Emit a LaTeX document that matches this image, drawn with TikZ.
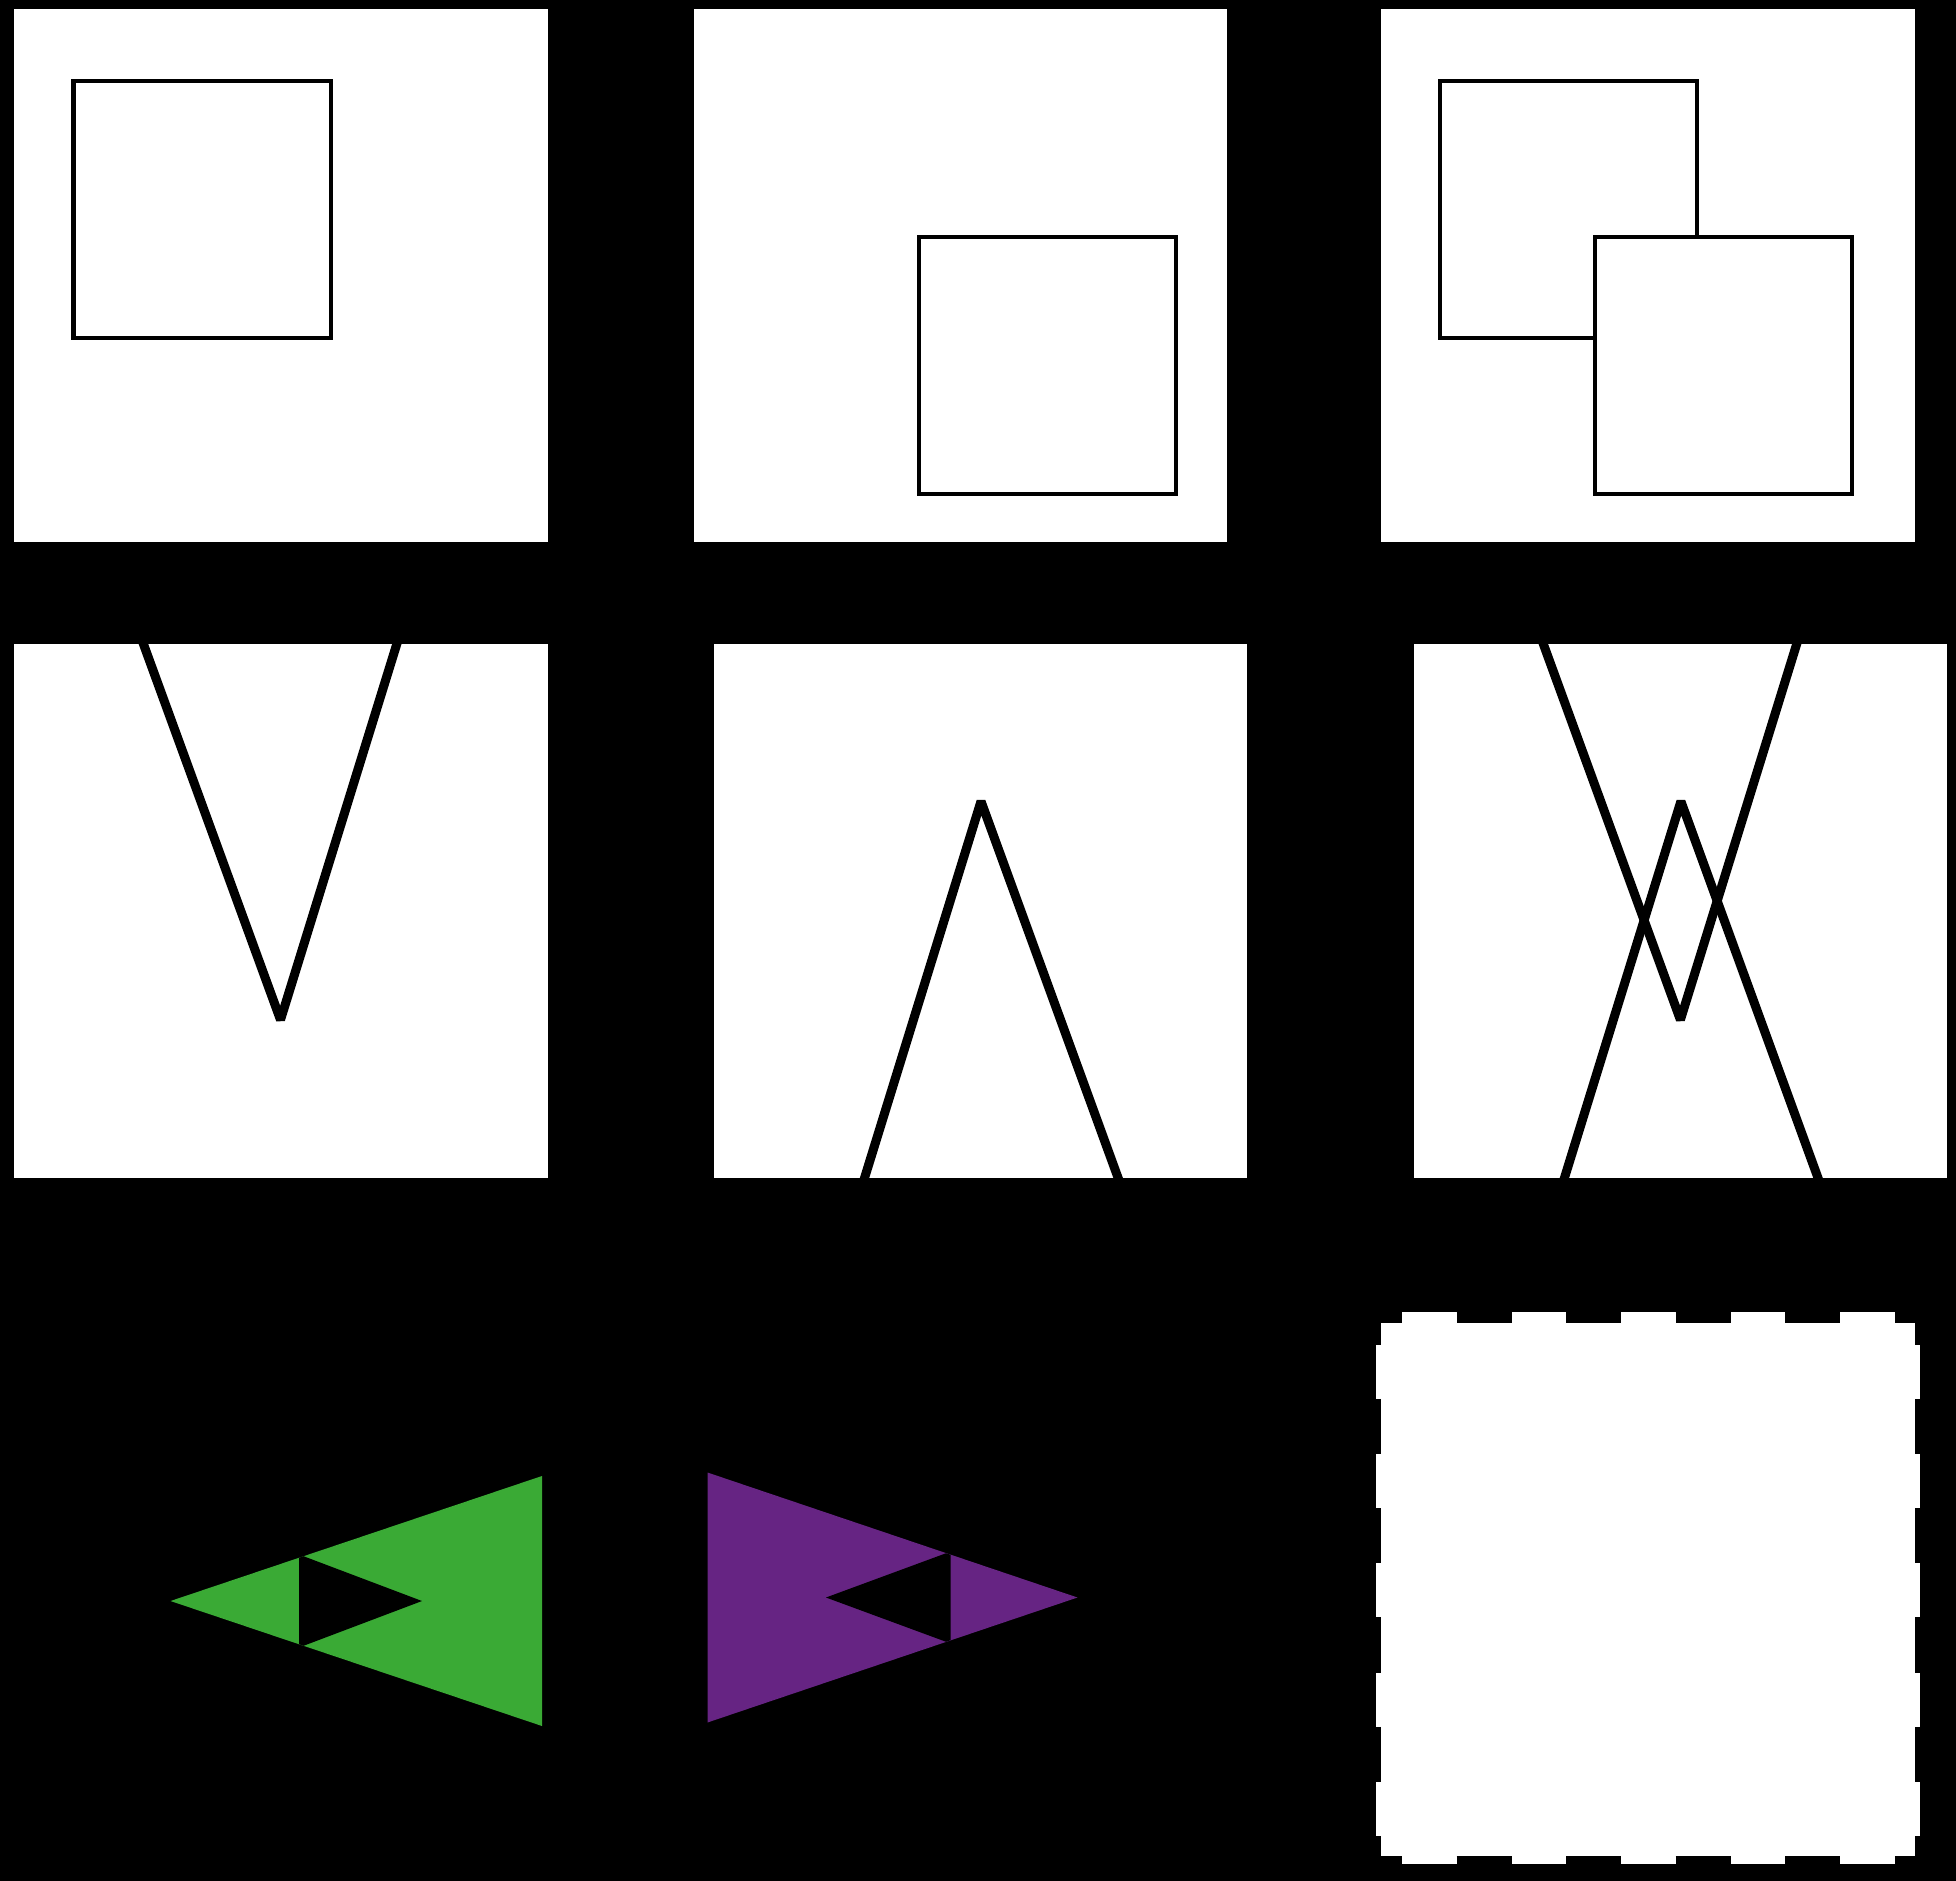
\documentclass[tikz,border=0pt]{standalone}
\definecolor{gfill}{HTML}{3AAA35}
\definecolor{pfill}{HTML}{662483}
\tikzset{
  panelbox/.style={fill=white},
  sqbox/.style={draw=black, line width=0.04cm},
  vline/.style={draw=black, line width=0.09cm, line join=bevel},
  topdash/.style={draw=black, dash pattern=on 0.552cm off 0.543cm, dash phase=0.29cm},
  sidedash/.style={draw=black, dash pattern=on 0.55cm off 0.542cm, dash phase=0.223cm}
}
\begin{document}
\begin{tikzpicture}[x=0.01cm,y=-0.01cm]
\useasboundingbox (0,0) rectangle (1956,1881);
\fill[black] (0,0) rectangle (1956,1881);
% row 1 panels
\fill[panelbox] (14,8.5) rectangle (547.6,542);
\fill[panelbox] (693.7,8.5) rectangle (1227.2,542);
\fill[panelbox] (1380.9,8.5) rectangle (1914.8,542);
% row 2 panels
\fill[panelbox] (14,644.3) rectangle (547.6,1177.5);
\fill[panelbox] (714,644.3) rectangle (1247.3,1177.5);
\fill[panelbox] (1413.9,644.3) rectangle (1947.3,1177.5);
% squares
\draw[sqbox] (73.5,81) rectangle (330.5,338);
\draw[sqbox] (919,236.5) rectangle (1176,493.5);
\draw[sqbox] (1439.5,81) rectangle (1696.5,338);
\filldraw[sqbox, fill=white] (1595,236.5) rectangle (1852,493.5);
% V
\begin{scope}[shift={(14,644.3)}]
  \clip (0,0) rectangle (533.6,533.2);
  \draw[vline] (125.9,-10) -- (266.5,375.5) -- (385.8,-10);
\end{scope}
% Lambda
\begin{scope}[shift={(714,644.3)}]
  \clip (0,0) rectangle (533.3,533.2);
  \draw[vline] (147.6,543.2) -- (267,157) -- (407.6,543.2);
\end{scope}
% both
\begin{scope}[shift={(1413.9,644.3)}]
  \clip (0,0) rectangle (533.4,533.2);
  \draw[vline] (125.9,-10) -- (266.5,375.5) -- (385.8,-10);
  \draw[vline] (147.6,543.2) -- (267,157) -- (407.6,543.2);
\end{scope}
% green
\fill[gfill] (170.5,1601) -- (542,1476) -- (542,1726) -- cycle;
\fill[black] (299,1557.8) -- (303.5,1556.2) -- (422,1601) -- (303.5,1645.8) -- (299,1644.2) -- cycle;
% purple
\fill[pfill] (707.5,1472.5) -- (1077.5,1597.5) -- (707.5,1722.5) -- cycle;
\fill[black] (950.5,1554.8) -- (946,1553.25) -- (826,1597.5) -- (946,1641.75) -- (950.5,1640.2) -- cycle;
% dashed answer box
\fill[white] (1376,1312) rectangle (1920,1864);
\draw[topdash, line width=0.113cm] (1376,1317.65) -- (1920,1317.65);
\draw[topdash, line width=0.08cm] (1376,1860) -- (1920,1860);
\draw[sidedash, line width=0.05cm] (1378.5,1312) -- (1378.5,1864);
\draw[sidedash, line width=0.055cm] (1917.25,1312) -- (1917.25,1864);
\end{tikzpicture}
\end{document}
